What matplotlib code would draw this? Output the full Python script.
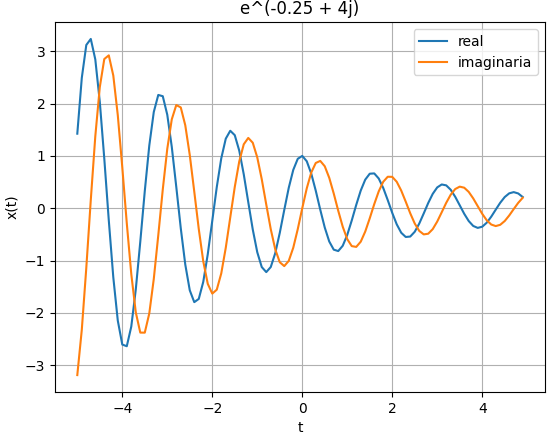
import numpy as np
import matplotlib
matplotlib.use("Agg")
import matplotlib.pyplot as plt

# sample times, step 0.1 from -5.0 to 4.9
t = np.round(np.arange(-5.0, 5.0, 0.1), 1)

real = [
    1.4243, 2.4897, 3.1182, 3.2340, 2.8441, 2.0336, 0.9483, -0.2306, -1.3163, -2.1456,
    -2.6028, -2.6353, -2.2588, -1.5515, -0.6388, 0.3281, 1.1970, 1.8385, 2.1645, 2.1400,
    1.7858, 1.1728, 0.4084, -0.3818, -1.0744, -1.5670, -1.7933, -1.7314, -1.4048, -0.8770,
    -0.2394, 0.4041, 0.9537, 1.3290, 1.4805, 1.3957, 1.0994, 0.6475, 0.1175, -0.4047,
    -0.8393, -1.1230, -1.2193, -1.1224, -0.8567, -0.4715, -0.0323, 0.3906, 0.7324, 0.9443,
    1.0000, 0.8983, 0.6627, 0.3361, -0.0265, -0.3673, -0.6347, -0.7909, -0.8173, -0.7160,
    -0.5091, -0.2334, 0.0649, 0.3386, 0.5466, 0.6599, 0.6657, 0.5683, 0.3878, 0.1562,
    -0.0882, -0.3071, -0.4679, -0.5485, -0.5404, -0.4491, -0.2929, -0.0990, 0.1007, 0.2751,
    0.3986, 0.4544, 0.4372, 0.3532, 0.2187, 0.0570, -0.1057, -0.2441, -0.3380, -0.3750,
    -0.3523, -0.2763, -0.1613, -0.0270, 0.1049, 0.2142, 0.2851, 0.3084, 0.2829, 0.2149,
]

imag = [
    -3.1865, -2.3214, -1.1397, 0.1605, 1.3725, 2.3131, 2.8503, 2.9206, 2.5360, 1.7782,
    0.7825, -0.2856, -1.2575, -1.9875, -2.3747, -2.3758, -2.0096, -1.3506, -0.5149, 0.3596,
    1.1358, 1.6985, 1.9712, 1.9258, 1.5849, 1.0156, 0.3172, -0.3962, -1.0135, -1.4439,
    -1.6302, -1.5553, -1.2436, -0.7549, -0.1733, 0.4066, 0.8954, 1.2219, 1.3435, 1.2515,
    0.9718, 0.5542, 0.0713, -0.3991, -0.7848, -1.0304, -1.1047, -1.0046, -0.7540, -0.3991,
    0.0000, 0.3798, 0.6824, 0.8647, 0.9045, 0.8024, 0.5813, 0.2811, -0.0479, -0.3534,
    -0.5894, -0.7229, -0.7380, -0.6383, -0.4448, -0.1920, 0.0781, 0.3230, 0.5060, 0.6018,
    0.6001, 0.5056, 0.3376, 0.1256, -0.0955, -0.2910, -0.4320, -0.4993, -0.4861, -0.3985,
    -0.2535, -0.0763, 0.1041, 0.2595, 0.3672, 0.4130, 0.3926, 0.3126, 0.1881, 0.0406,
    -0.1059, -0.2289, -0.3105, -0.3402, -0.3159, -0.2440, -0.1378, -0.0155, 0.1032, 0.2001,
]

fig, ax = plt.subplots(figsize=(5.53, 4.34), dpi=100)
fig.subplots_adjust(left=0.0995, right=0.9855, top=0.949, bottom=0.097)

ax.plot(t, real, label="real")
ax.plot(t, imag, label="imaginaria")
ax.set_title("e^(-0.25 + 4j)")
ax.set_xlabel("t")
ax.set_ylabel("x(t)")
ax.grid(True)
ax.legend(loc="upper right")

fig.savefig("out.png", dpi=100)
